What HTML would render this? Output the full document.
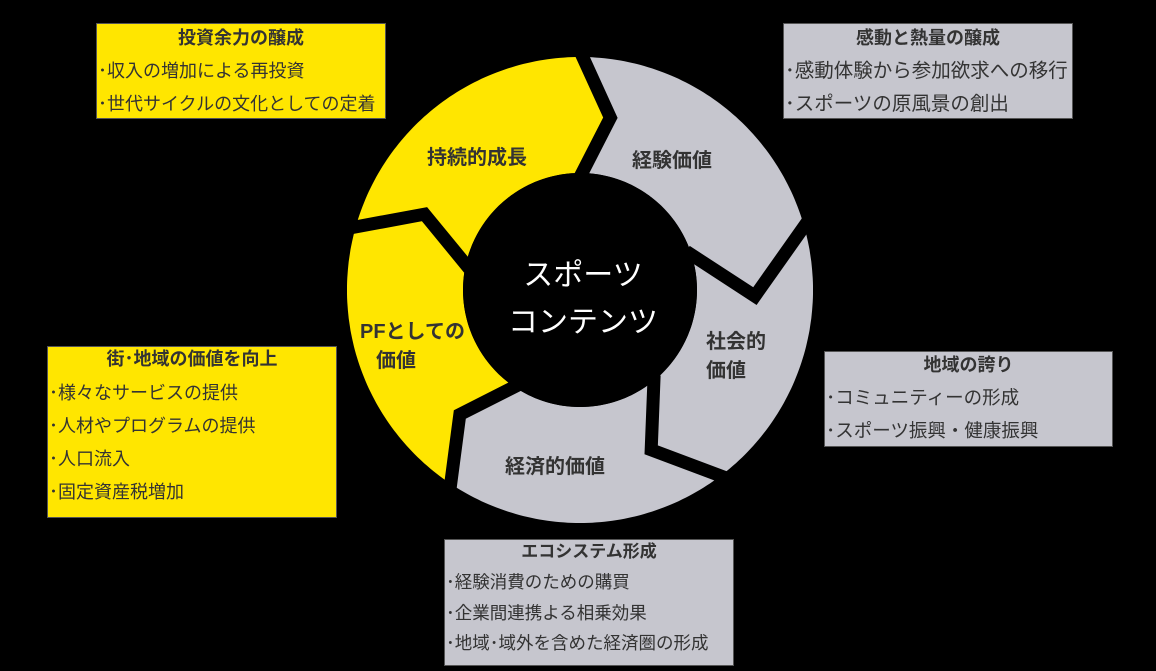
<!DOCTYPE html>
<html><head><meta charset="utf-8">
<style>
body{margin:0;background:#000;width:1156px;height:671px;overflow:hidden;position:relative;font-family:"Liberation Sans","Noto Sans CJK JP",sans-serif;}
.box{position:absolute;box-sizing:border-box;border:1px solid #555;color:#333;}
.y{background:#FFE600;}
.g{background:#C6C6CE;}
.t{position:absolute;left:0;right:0;text-align:center;font-weight:bold;font-size:18px;line-height:24px;}
.l{position:absolute;left:1px;font-size:18px;line-height:24px;white-space:nowrap;}
.lab{position:absolute;font-weight:bold;font-size:20px;color:#333;line-height:28px;white-space:nowrap;}
svg{position:absolute;left:0;top:0;}
</style></head><body>
<svg id="s" width="1156" height="671"></svg>

<div class="box y" style="left:96px;top:23px;width:290px;height:96px">
<div class="t" style="top:2px">投資余力の醸成</div>
<div class="l" style="top:35px">･収入の増加による再投資</div>
<div class="l" style="top:68px">･世代サイクルの文化としての定着</div>
</div>
<div class="box g" style="left:783px;top:23px;width:290px;height:96px">
<div class="t" style="top:2px">感動と熱量の醸成</div>
<div class="l" style="top:35px;font-size:19.5px">･感動体験から参加欲求への移行</div>
<div class="l" style="top:68px;font-size:19.5px">･スポーツの原風景の創出</div>
</div>
<div class="box g" style="left:824px;top:351px;width:289px;height:96px">
<div class="t" style="top:1px">地域の誇り</div>
<div class="l" style="top:34px;font-size:18.5px">･コミュニティーの形成</div>
<div class="l" style="top:67px;font-size:18.5px">･スポーツ振興・健康振興</div>
</div>
<div class="box y" style="left:47px;top:346px;width:290px;height:172px">
<div class="t" style="top:0px">街･地域の価値を向上</div>
<div class="l" style="top:34px">･様々なサービスの提供</div>
<div class="l" style="top:67px">･人材やプログラムの提供</div>
<div class="l" style="top:100px">･人口流入</div>
<div class="l" style="top:133px">･固定資産税増加</div>
</div>
<div class="box g" style="left:444px;top:539px;width:290px;height:127px">
<div class="t" style="top:0px;font-size:17px">エコシステム形成</div>
<div class="l" style="top:30px;font-size:17.5px">･経験消費のための購買</div>
<div class="l" style="top:61px;font-size:17.5px">･企業間連携よる相乗効果</div>
<div class="l" style="top:91px;font-size:17.5px">･地域･域外を含めた経済圏の形成</div>
</div>

<div class="lab" style="left:427px;top:144px">持続的成長</div>
<div class="lab" style="left:632px;top:147px">経験価値</div>
<div class="lab" style="left:706px;top:328px">社会的</div>
<div class="lab" style="left:706px;top:357px">価値</div>
<div class="lab" style="left:505px;top:453px">経済的価値</div>
<div class="lab" style="left:360px;top:318px">PFとしての</div>
<div class="lab" style="left:376px;top:347px">価値</div>
<div style="position:absolute;left:480px;width:206px;text-align:center;top:252px;color:#fff;font-size:30px;line-height:47px">スポーツ<br>コンテンツ</div>

<script>
var cx=580,cy=290,R=233,r=117;
function P(t,rad){var a=t*Math.PI/180;return [cx+rad*Math.sin(a),cy-rad*Math.cos(a)];}
var B=[[0,10,175,0],[73,92,175,70],[142,156,175,139],[213,224,173,213],[285,296,173,281]];
var cols=["#C6C6CE","#C6C6CE","#C6C6CE","#FFE600","#FFE600"];
var s="";
for(var k=0;k<5;k++){
 var b0=B[k],b1=B[(k+1)%5];
 var e0=b1[0];if(e0<=b0[0])e0+=360;
 var ei=b1[3];if(ei<=b0[3])ei+=360;
 var pts=[];
 for(var t=b0[0];t<=e0;t+=1)pts.push(P(t,R));
 pts.push(P(e0,R));
 pts.push(P(b1[1],b1[2]));
 for(var t=ei;t>=b0[3];t-=1)pts.push(P(t,r));
 pts.push(P(b0[3],r));
 pts.push(P(b0[1],b0[2]));
 s+='<polygon fill="'+cols[k]+'" points="'+pts.map(function(p){return p[0].toFixed(1)+','+p[1].toFixed(1)}).join(' ')+'"/>';
}
for(var k=0;k<5;k++){
 var b=B[k];var a=P(b[0],R+6),c=P(b[1],b[2]),d=P(b[3],r-4);
 s+='<polyline fill="none" stroke="#000" stroke-width="13" stroke-linejoin="miter" points="'+a+' '+c+' '+d+'"/>';
}
s+='<circle cx="'+cx+'" cy="'+cy+'" r="'+r+'" fill="#000"/>';
document.getElementById('s').innerHTML=s;
</script>
</body></html>
